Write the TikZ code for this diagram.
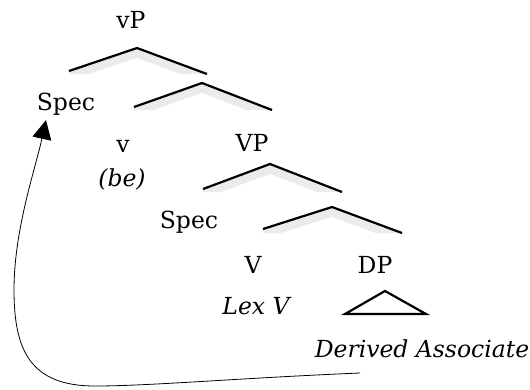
\documentclass[tikz,border=0pt]{standalone}
\usepackage{fontspec}
\setmainfont{DejaVu Serif}
\usetikzlibrary{arrows.meta}
\begin{document}
\begin{tikzpicture}[x=1pt,y=-1pt,
  lab/.style={anchor=base,inner sep=0pt,font=\fontsize{23.5}{28}\selectfont},
  branch/.style={line width=2.2pt}]
\useasboundingbox (0,0) rectangle (530,389);
% labels
\node[lab] (vp) at (131,28) {vP};
\node[lab] (specv) at (66,110) {Spec};
\node[lab] (lv) at (123,152) {v};
\node[lab] (be) at (122,186) {\itshape (be)};
\node[lab] (bigvp) at (252,151) {VP};
\node[lab] (specV) at (189,228) {Spec};
\node[lab] (verb) at (253,273) {V};
\node[lab] (dp) at (375,273) {DP};
\node[lab] (lex) at (256,314) {\itshape Lex V};
\node[lab] (assoc) at (422,357) {\itshape Derived Associate};
% branches with their soft shadow
\foreach \ax/\ay/\lx/\ly/\rx/\ry in {137/48/69/71/207/74, 202/83/134/107/272/110,
    270/164/203/189/342/192, 332/207/263/229/402/233}{
  \begin{scope}
    \clip (\lx,\ly) -- (\ax,\ay) -- (\rx,\ry) -- (\lx,\ry) -- cycle;
    \draw[line width=9pt,black!8] (\lx,\ly+5) -- (\ax,\ay+5) -- (\rx,\ry+5);
  \end{scope}
  \draw[branch] (\lx,\ly) -- (\ax,\ay) -- (\rx,\ry);
}
\draw[branch] (385,291) -- (426,314) -- (345,314) -- cycle;
% movement arrow
\coordinate (tail) at (360,373);
\draw[line width=.8pt,-{Triangle[width=19pt,length=19pt]}] (tail)
  .. controls (240,378) and (150,386) .. (95,386)
  .. controls (30,386) and (14,350) .. (14,290)
  .. controls (14,230) and (35,170) .. ([xshift=-20pt,yshift=-5pt]specv.south);
\end{tikzpicture}
\end{document}
